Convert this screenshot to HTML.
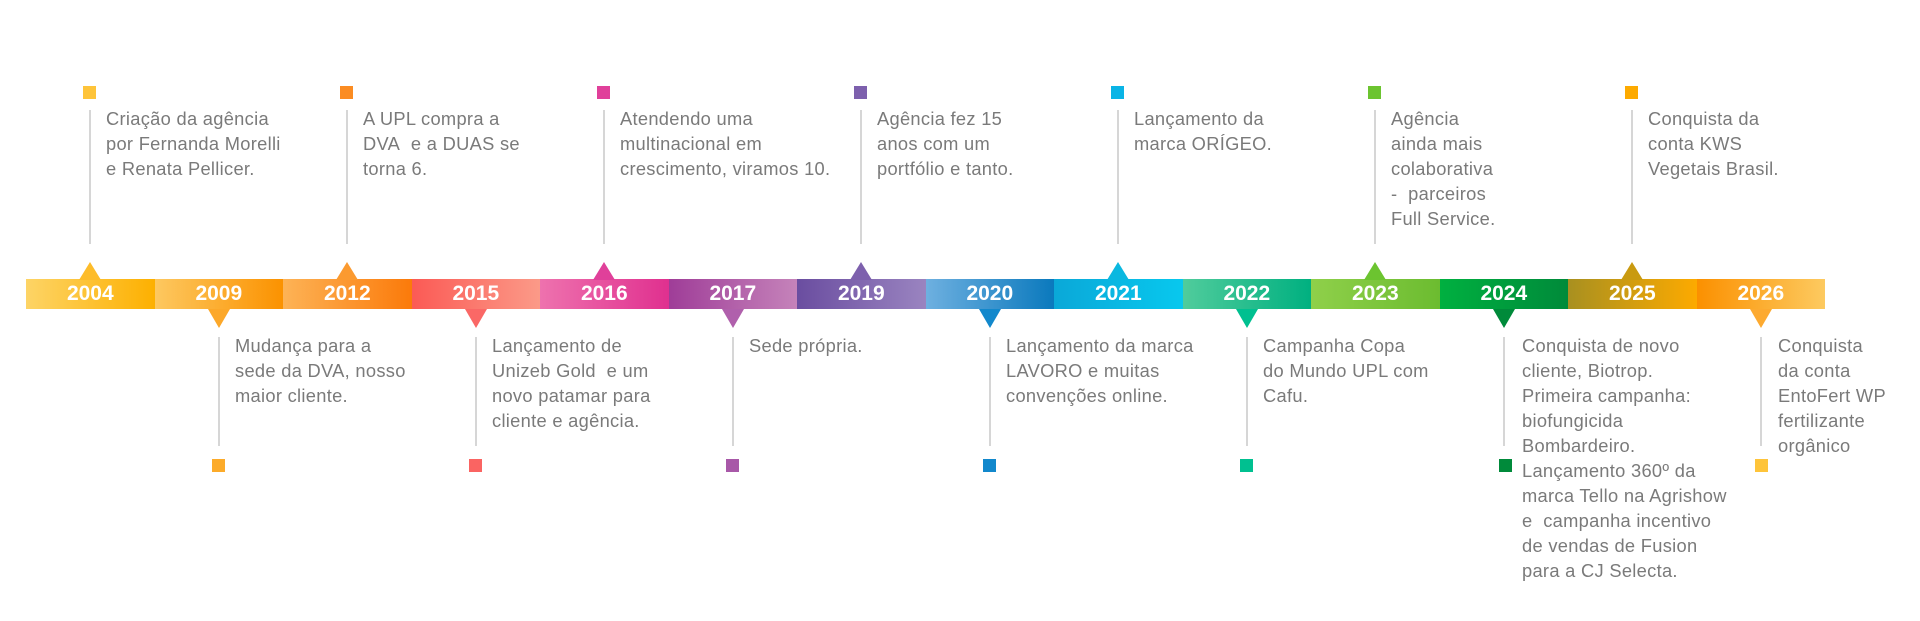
<!DOCTYPE html>
<html><head><meta charset="utf-8"><style>
body{margin:0;width:1920px;height:621px;background:#fff;position:relative;overflow:hidden;font-family:"Liberation Sans",sans-serif}
.seg{position:absolute;top:279px;height:30px;width:128.6px;color:#fff;font-weight:bold;font-size:21px;line-height:30px;text-align:center}
.sq{position:absolute;width:13px;height:13px}
.ln{position:absolute;width:2px;background:#d6d6d6}
.tx{position:absolute;color:#7a7a7a;font-size:18.3px;letter-spacing:0.3px;line-height:25px;white-space:nowrap}
.tu{position:absolute;width:0;height:0;border-left:11px solid transparent;border-right:11px solid transparent;border-bottom:18px solid}
.td{position:absolute;width:0;height:0;border-left:11px solid transparent;border-right:11px solid transparent;border-top:19px solid}
</style></head><body>
<div class="seg" style="left:26px;background:linear-gradient(90deg,#fdd466,#fdb000)">2004</div>
<div class="seg" style="left:154.5px;background:linear-gradient(90deg,#fdc860,#fb9200)">2009</div>
<div class="seg" style="left:283px;background:linear-gradient(90deg,#fdb356,#fb7a0a)">2012</div>
<div class="seg" style="left:411.5px;background:linear-gradient(90deg,#fb5a55,#fb9a88)">2015</div>
<div class="seg" style="left:540px;background:linear-gradient(90deg,#ee72ae,#e0308f)">2016</div>
<div class="seg" style="left:668.5px;background:linear-gradient(90deg,#9f3d98,#c583ba)">2017</div>
<div class="seg" style="left:797px;background:linear-gradient(90deg,#6a4da0,#9a84c0)">2019</div>
<div class="seg" style="left:925.5px;background:linear-gradient(90deg,#6eb0e0,#0a79bd)">2020</div>
<div class="seg" style="left:1054px;background:linear-gradient(90deg,#0aa8d8,#08c8ee)">2021</div>
<div class="seg" style="left:1182.5px;background:linear-gradient(90deg,#50cc9c,#00b080)">2022</div>
<div class="seg" style="left:1311px;background:linear-gradient(90deg,#8fd04a,#6cbc30)">2023</div>
<div class="seg" style="left:1439.5px;background:linear-gradient(90deg,#00b040,#008a3a)">2024</div>
<div class="seg" style="left:1568px;background:linear-gradient(90deg,#a89020,#fdaa00)">2025</div>
<div class="seg" style="left:1696.5px;background:linear-gradient(90deg,#fb9000,#fdca60)">2026</div>

<div class="tu" style="left:79px;top:262px;border-bottom-color:#fdbc2a"></div>
<div class="sq" style="left:83px;top:86px;background:#fec43a"></div>
<div class="ln" style="left:89px;top:110px;height:134px"></div>
<div class="tx" style="left:106px;top:106px">Criação da agência<br>por Fernanda Morelli<br>e Renata Pellicer.</div>

<div class="tu" style="left:336px;top:262px;border-bottom-color:#fb9a30"></div>
<div class="sq" style="left:340px;top:86px;background:#fb8c22"></div>
<div class="ln" style="left:346px;top:110px;height:134px"></div>
<div class="tx" style="left:363px;top:106px">A UPL compra a<br>DVA&nbsp; e a DUAS se<br>torna 6.</div>

<div class="tu" style="left:593px;top:262px;border-bottom-color:#e0409a"></div>
<div class="sq" style="left:597px;top:86px;background:#e0409a"></div>
<div class="ln" style="left:603px;top:110px;height:134px"></div>
<div class="tx" style="left:620px;top:106px">Atendendo uma<br>multinacional em<br>crescimento, viramos 10.</div>

<div class="tu" style="left:850px;top:262px;border-bottom-color:#7d60ad"></div>
<div class="sq" style="left:854px;top:86px;background:#7d60ad"></div>
<div class="ln" style="left:860px;top:110px;height:134px"></div>
<div class="tx" style="left:877px;top:106px">Agência fez 15<br>anos com um<br>portfólio e tanto.</div>

<div class="tu" style="left:1107px;top:262px;border-bottom-color:#0ab8e0"></div>
<div class="sq" style="left:1111px;top:86px;background:#0ab4e6"></div>
<div class="ln" style="left:1117px;top:110px;height:134px"></div>
<div class="tx" style="left:1134px;top:106px">Lançamento da<br>marca ORÍGEO.</div>

<div class="tu" style="left:1364px;top:262px;border-bottom-color:#6cc430"></div>
<div class="sq" style="left:1368px;top:86px;background:#6cc430"></div>
<div class="ln" style="left:1374px;top:110px;height:134px"></div>
<div class="tx" style="left:1391px;top:106px">Agência<br>ainda mais<br>colaborativa<br>-&nbsp; parceiros<br>Full Service.</div>

<div class="tu" style="left:1621px;top:262px;border-bottom-color:#c99a10"></div>
<div class="sq" style="left:1625px;top:86px;background:#fdaa00"></div>
<div class="ln" style="left:1631px;top:110px;height:134px"></div>
<div class="tx" style="left:1648px;top:106px">Conquista da<br>conta KWS<br>Vegetais Brasil.</div>

<div class="td" style="left:208px;top:309px;border-top-color:#fca82a"></div>
<div class="ln" style="left:218px;top:337px;height:109px"></div>
<div class="sq" style="left:212px;top:459px;background:#fcab2a"></div>
<div class="tx" style="left:235px;top:333px">Mudança para a<br>sede da DVA, nosso<br>maior cliente.</div>

<div class="td" style="left:465px;top:309px;border-top-color:#fa6866"></div>
<div class="ln" style="left:475px;top:337px;height:109px"></div>
<div class="sq" style="left:469px;top:459px;background:#fa6462"></div>
<div class="tx" style="left:492px;top:333px">Lançamento de<br>Unizeb Gold&nbsp; e um<br>novo patamar para<br>cliente e agência.</div>

<div class="td" style="left:722px;top:309px;border-top-color:#b060ac"></div>
<div class="ln" style="left:732px;top:337px;height:109px"></div>
<div class="sq" style="left:726px;top:459px;background:#a858a8"></div>
<div class="tx" style="left:749px;top:333px">Sede própria.</div>

<div class="td" style="left:979px;top:309px;border-top-color:#1288cc"></div>
<div class="ln" style="left:989px;top:337px;height:109px"></div>
<div class="sq" style="left:983px;top:459px;background:#1288cc"></div>
<div class="tx" style="left:1006px;top:333px">Lançamento da marca<br>LAVORO e muitas<br>convenções online.</div>

<div class="td" style="left:1236px;top:309px;border-top-color:#00c090"></div>
<div class="ln" style="left:1246px;top:337px;height:109px"></div>
<div class="sq" style="left:1240px;top:459px;background:#00c090"></div>
<div class="tx" style="left:1263px;top:333px">Campanha Copa<br>do Mundo UPL com<br>Cafu.</div>

<div class="td" style="left:1493px;top:309px;border-top-color:#008a3a"></div>
<div class="ln" style="left:1503px;top:337px;height:109px"></div>
<div class="sq" style="left:1499px;top:459px;background:#008a3a"></div>
<div class="tx" style="left:1522px;top:333px">Conquista de novo<br>cliente, Biotrop.<br>Primeira campanha:<br>biofungicida<br>Bombardeiro.<br>Lançamento 360º da<br>marca Tello na Agrishow<br>e&nbsp; campanha incentivo<br>de vendas de Fusion<br>para a CJ Selecta.</div>

<div class="td" style="left:1750px;top:309px;border-top-color:#fdaa30"></div>
<div class="ln" style="left:1760px;top:337px;height:109px"></div>
<div class="sq" style="left:1755px;top:459px;background:#fec43a"></div>
<div class="tx" style="left:1778px;top:333px">Conquista<br>da conta<br>EntoFert WP<br>fertilizante<br>orgânico</div>
</body></html>
